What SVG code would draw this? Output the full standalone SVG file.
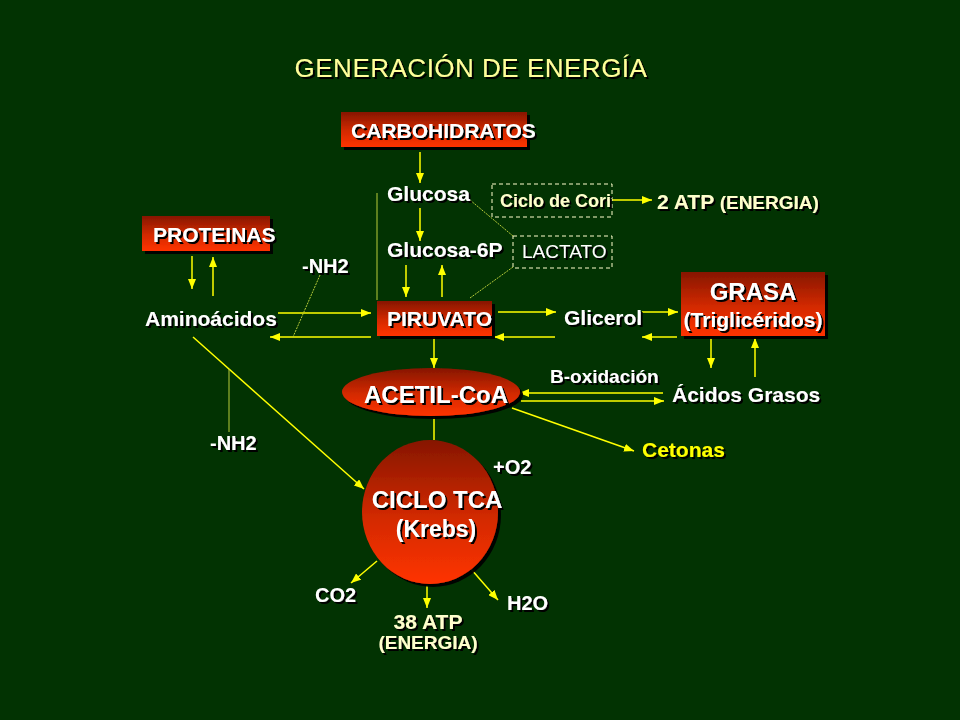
<svg xmlns="http://www.w3.org/2000/svg" width="960" height="720" viewBox="0 0 960 720">
<defs>
<style>
.t{font-family:"Liberation Sans",Arial,sans-serif;font-weight:bold;font-size:21px;fill:#ffffff;filter:url(#ts)}
.cr{fill:#ffffcc}
.n{font-weight:normal}
.a{fill:none;stroke:#ffff00;stroke-width:1.5;marker-end:url(#ah)}
.l{fill:none;stroke:#ffff00;stroke-width:1.5}
.th{fill:none;stroke:#b8cc3a;stroke-width:1;stroke-dasharray:2 1}
.tv{fill:none;stroke:#b8cc3a;stroke-width:1}
.box{fill:url(#rg);filter:url(#bs)}
.dash{fill:none;stroke:#ffffcc;stroke-width:1;stroke-dasharray:4 3}
</style>
<linearGradient id="rg" x1="0" y1="0" x2="0" y2="1">
<stop offset="0" stop-color="#861600"/>
<stop offset="0.55" stop-color="#d42a00"/>
<stop offset="1" stop-color="#ff3300"/>
</linearGradient>
<filter id="ts" x="-10%" y="-30%" width="125%" height="170%">
<feDropShadow dx="2" dy="2" stdDeviation="0.4" flood-color="#000000" flood-opacity="1"/>
</filter>
<filter id="bs" x="-10%" y="-10%" width="125%" height="130%">
<feDropShadow dx="3" dy="3" stdDeviation="0.6" flood-color="#000000" flood-opacity="0.95"/>
</filter>
<marker id="ah" markerWidth="10" markerHeight="8" refX="10" refY="4" orient="auto" markerUnits="userSpaceOnUse">
<path d="M0,0 L10,4 L0,8 z" fill="#ffff00"/>
</marker>
</defs>
<rect x="0" y="0" width="960" height="720" fill="#023302"/>

<g id="title">
<text class="t n" x="471" y="77" text-anchor="middle" style="font-size:26px;fill:#ffff99;letter-spacing:0.5px">GENERACIÓN DE ENERGÍA</text>
</g>

<g id="connectors">
<path class="a" d="M420,152 V183"/>
<path class="a" d="M420,208 V241"/>
<path class="a" d="M612,200 H652"/>
<path class="a" d="M406,265 V297"/>
<path class="a" d="M442,297 V265"/>
<path class="a" d="M278,313 H371"/>
<path class="a" d="M371,337 H270"/>
<path class="a" d="M192,256 V289"/>
<path class="a" d="M213,296 V257"/>
<path class="a" d="M498,312 H556"/>
<path class="a" d="M555,337 H494"/>
<path class="a" d="M642,312 H678"/>
<path class="a" d="M677,337 H642"/>
<path class="a" d="M711,338 V368"/>
<path class="a" d="M755,377 V338"/>
<path class="a" d="M663,393 H519"/>
<path class="a" d="M521,401 H664"/>
<path class="a" d="M512,408 L634,451"/>
<path class="a" d="M434,337 V368"/>
<path class="l" d="M434,417 V440"/>
<path class="a" d="M193,337 L364,489"/>
<path class="a" d="M377,561 L351,583"/>
<path class="a" d="M427,585 V608"/>
<path class="a" d="M471,569 L498,600"/>
<path class="th" d="M470,200 L513,236"/>
<path class="th" d="M513,267 L470,298"/>
<path class="tv" d="M377,193 V300"/>
<path class="th" d="M320,275 L293,337"/>
<path class="tv" d="M229,369 V432"/>
</g>

<g id="carbohidratos">
<rect class="box" x="341" y="112" width="186" height="35"/>
<text class="t" x="351" y="138">CARBOHIDRATOS</text>
</g>
<g id="glucosa">
<text class="t" x="387" y="201">Glucosa</text>
</g>
<g id="ciclo-cori">
<rect class="dash" x="492" y="184" width="120" height="33"/>
<text class="t cr" x="500" y="207" style="font-size:18px">Ciclo de Cori</text>
</g>
<g id="atp2">
<text class="t cr" x="657" y="209">2 ATP <tspan style="font-size:19px">(ENERGIA)</tspan></text>
</g>
<g id="glucosa6p">
<text class="t" x="387" y="257">Glucosa-6P</text>
</g>
<g id="lactato">
<rect class="dash" x="513" y="236" width="99" height="32"/>
<text class="t n" x="522" y="258" style="font-size:19px">LACTATO</text>
</g>
<g id="proteinas">
<rect class="box" x="142" y="216" width="128" height="35"/>
<text class="t" x="153" y="242">PROTEINAS</text>
</g>
<g id="nh2-top">
<text class="t" x="302" y="273" style="font-size:20px">-NH2</text>
</g>
<g id="aminoacidos">
<text class="t" x="145" y="326">Aminoácidos</text>
</g>
<g id="piruvato">
<rect class="box" x="377" y="301" width="115" height="35"/>
<text class="t" x="387" y="326">PIRUVATO</text>
</g>
<g id="glicerol">
<text class="t" x="564" y="325">Glicerol</text>
</g>
<g id="grasa">
<rect class="box" x="681" y="272" width="144" height="64"/>
<text class="t" x="753" y="300" text-anchor="middle" style="font-size:24px">GRASA</text>
<text class="t" x="753" y="327" text-anchor="middle">(Triglicéridos)</text>
</g>
<g id="b-oxidacion">
<text class="t" x="550" y="383" style="font-size:19px">B-oxidación</text>
</g>
<g id="acidos-grasos">
<text class="t" x="672" y="402">Ácidos Grasos</text>
</g>
<g id="acetil-coa">
<ellipse class="box" cx="431" cy="392" rx="89" ry="24"/>
<text class="t" x="436" y="403" text-anchor="middle" style="font-size:24px">ACETIL-CoA</text>
</g>
<g id="cetonas">
<text class="t" x="642" y="457" style="fill:#ffff00">Cetonas</text>
</g>
<g id="nh2-bottom">
<text class="t" x="210" y="450" style="font-size:20px">-NH2</text>
</g>
<g id="o2">
<text class="t" x="493" y="474" style="font-size:20px">+O2</text>
</g>
<g id="ciclo-tca">
<ellipse class="box" cx="430" cy="512" rx="68" ry="72"/>
<text class="t" x="437" y="508" text-anchor="middle" style="font-size:24px">CICLO TCA</text>
<text class="t" x="436" y="537" text-anchor="middle" style="font-size:23px">(Krebs)</text>
</g>
<g id="co2">
<text class="t" x="315" y="602" style="font-size:20px">CO2</text>
</g>
<g id="h2o">
<text class="t" x="507" y="610" style="font-size:20px">H2O</text>
</g>
<g id="atp38">
<text class="t cr" x="428" y="629" text-anchor="middle">38 ATP</text>
<text class="t cr" x="428" y="649" text-anchor="middle" style="font-size:19px">(ENERGIA)</text>
</g>
</svg>
